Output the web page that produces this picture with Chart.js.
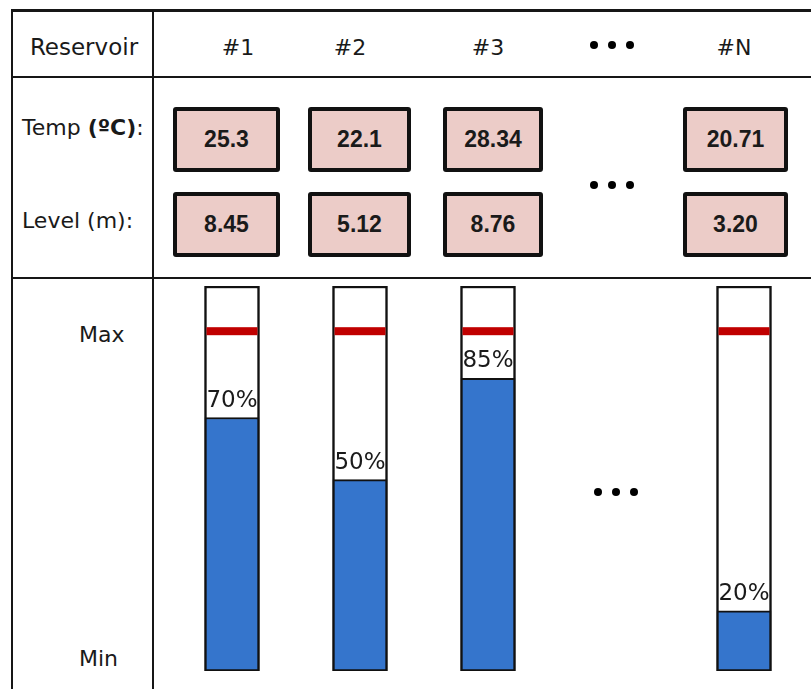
<!DOCTYPE html>
<html>
<head>
<meta charset="utf-8">
<title>Reservoir levels</title>
<script src="https://cdn.jsdelivr.net/npm/chart.js@4.4.0/dist/chart.umd.min.js"></script>
<style>
  body { margin: 0; background: #fff; }
  #page { position: relative; width: 811px; height: 689px; overflow: hidden;
          font-family: "DejaVu Sans", Verdana, sans-serif; color: #1a1a1a; }
  .rule { position: absolute; background: #161616; }
  .txt { position: absolute; font-size: 22px; white-space: nowrap; transform: translate(-50%, -50%); }
  .lbl { position: absolute; font-size: 22px; white-space: nowrap; transform: translateY(-50%); }
  .box { position: absolute; box-sizing: border-box; border: 4px solid #111; border-radius: 3px;
         background: #ecccc8; display: flex; align-items: center; justify-content: center;
         font: bold 23px "Liberation Sans", Arial, sans-serif; color: #1a1a1a; }
  .dots { position: absolute; width: 44px; height: 8px; transform: translate(-50%, -50%);
          display: flex; justify-content: space-between; }
  .dots span { width: 8px; height: 8px; border-radius: 50%; background: #000; }
  #chartWrap { position: absolute; left: 154px; top: 279px; width: 657px; height: 410px; }
</style>
</head>
<body>
<div id="page">
  <div class="rule" style="left:11px; top:9px; width:800px; height:3px;"></div>
  <div class="rule" style="left:11px; top:76px; width:800px; height:2px;"></div>
  <div class="rule" style="left:11px; top:277px; width:800px; height:2px;"></div>
  <div class="rule" style="left:11px; top:9px; width:2px; height:680px;"></div>
  <div class="rule" style="left:152px; top:9px; width:2px; height:680px;"></div>

  <div class="txt" style="left:84px; top:47px; font-size:23px;">Reservoir</div>
  <div class="lbl" style="left:22px; top:127px;">Temp <b>(ºC)</b>:</div>
  <div class="lbl" style="left:22px; top:220px;">Level (m):</div>
  <div class="lbl" style="left:79px; top:334px;">Max</div>
  <div class="lbl" style="left:79px; top:658px;">Min</div>

  <div id="chartWrap"><canvas id="levelChart" width="657" height="410"></canvas></div>
</div>
<script>
// data
const reservoirs = ["#1", "#2", "#3", "...", "#N"];
const temps = ["25.3", "22.1", "28.34", null, "20.71"];
const levels = ["8.45", "5.12", "8.76", null, "3.20"];
const fillLabels = ["70%", "50%", "85%", null, "20%"];
// fill heights as drawn, in units where Min = 0 and the Max line = 100
const fillDrawn = [74.6, 56.3, 86.1, null, 17.7];
const maxLine = 100;
const tubeTop = 113.3;

// table layout (page pixels)
const headX = [238, 350, 488, 612, 734];
const boxLeft = [173, 308, 443, null, 683];
const boxWidth = [107, 103, 100, null, 105];

const page = document.getElementById("page");

function addDots(x, y) {
  const d = document.createElement("div");
  d.className = "dots";
  d.style.left = x + "px";
  d.style.top = y + "px";
  d.innerHTML = "<span></span><span></span><span></span>";
  page.appendChild(d);
}

function addBox(text, left, top, width) {
  const b = document.createElement("div");
  b.className = "box";
  b.style.left = left + "px";
  b.style.top = top + "px";
  b.style.width = width + "px";
  b.style.height = "65px";
  b.textContent = text;
  page.appendChild(b);
}

reservoirs.forEach((name, i) => {
  if (temps[i] === null) {
    addDots(headX[i], 45);
    addDots(headX[i], 185);
    return;
  }
  const h = document.createElement("div");
  h.className = "txt";
  h.style.left = headX[i] + "px";
  h.style.top = "47px";
  h.textContent = name;
  page.appendChild(h);
  addBox(temps[i], boxLeft[i], 107, boxWidth[i]);
  addBox(levels[i], boxLeft[i], 192, boxWidth[i]);
});

// red max line, percentage labels and the gap dots
const overlay = {
  id: "overlay",
  afterDatasetsDraw(chart) {
    const ctx = chart.ctx;
    const y = chart.scales.y;
    const x = chart.scales.x;
    const area = chart.chartArea;
    const fillMeta = chart.getDatasetMeta(0);
    const tubeMeta = chart.getDatasetMeta(1);
    const redY = y.getPixelForValue(maxLine);
    ctx.save();
    fillDrawn.forEach((v, i) => {
      if (v === null) {
        const cx = x.getPixelForValue(i);
        const cy = area.top + (area.bottom - area.top) * 0.535;
        ctx.fillStyle = "#000";
        [-18, 0, 18].forEach(dx => {
          ctx.beginPath();
          ctx.arc(cx + dx, cy, 4, 0, Math.PI * 2);
          ctx.fill();
        });
        return;
      }
      const tube = tubeMeta.data[i];
      ctx.fillStyle = "#c00000";
      ctx.fillRect(tube.x - tube.width / 2 + 2, redY - 4, tube.width - 4, 8);

      const bar = fillMeta.data[i];
      ctx.fillStyle = "#1a1a1a";
      ctx.font = '23px "DejaVu Sans", Verdana, sans-serif';
      ctx.textAlign = "center";
      ctx.textBaseline = "alphabetic";
      ctx.fillText(fillLabels[i], bar.x, bar.y - 11);
    });
    ctx.restore();
  }
};

new Chart(document.getElementById("levelChart"), {
  type: "bar",
  data: {
    labels: reservoirs,
    datasets: [
      {
        label: "Level",
        data: fillDrawn,
        backgroundColor: "#3575cc",
        borderColor: "#111",
        borderWidth: 2,
        borderSkipped: false,
        barThickness: 54,
        grouped: false,
        order: 1
      },
      {
        label: "Tube",
        data: fillDrawn.map(v => (v === null ? null : tubeTop)),
        backgroundColor: "#fff",
        borderColor: "#111",
        borderWidth: 2.5,
        borderSkipped: false,
        barThickness: 55,
        grouped: false,
        order: 2
      }
    ]
  },
  options: {
    responsive: false,
    animation: false,
    events: [],
    layout: { padding: { left: 14, right: 3, top: 7, bottom: 18 } },
    scales: {
      x: { display: false },
      y: { display: false, min: 0, max: tubeTop }
    },
    plugins: {
      legend: { display: false },
      tooltip: { enabled: false }
    }
  },
  plugins: [overlay]
});
</script>
</body>
</html>
